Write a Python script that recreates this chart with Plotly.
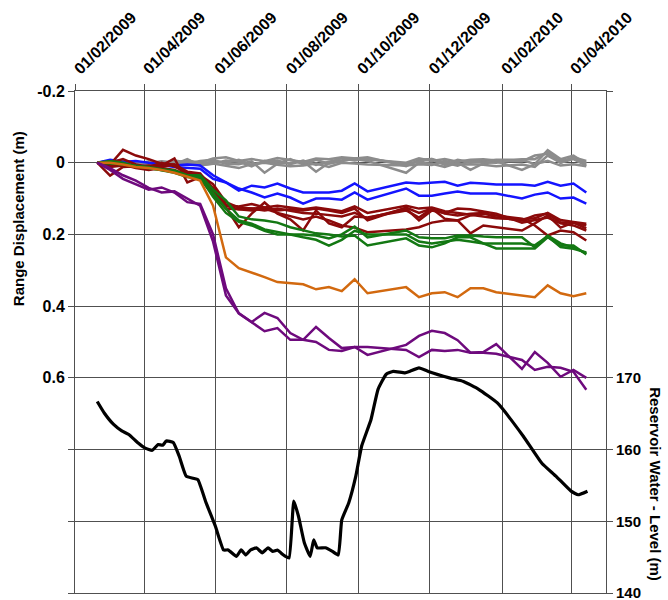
import plotly.graph_objects as go

# Acquisition dates of the displacement time series (11-day repeat, a few gaps)
sar_dates = [
    "2009-02-20", "2009-03-03", "2009-03-14", "2009-03-25", "2009-04-05", "2009-04-16",
    "2009-04-27", "2009-05-08", "2009-05-19", "2009-05-30", "2009-06-10", "2009-06-21",
    "2009-07-02", "2009-07-13", "2009-07-24", "2009-08-04", "2009-08-15", "2009-08-26",
    "2009-09-06", "2009-09-17", "2009-09-28", "2009-10-09", "2009-11-11", "2009-11-22",
    "2009-12-03", "2009-12-14", "2009-12-25", "2010-01-05", "2010-01-16", "2010-01-27",
    "2010-02-18", "2010-03-01", "2010-03-12", "2010-03-23", "2010-04-03", "2010-04-14",
]

# Range displacement (m) of the stable reference points
gray_1 = [0, 0.003, -0.005, 0.002, 0.0, -0.003, 0.005, -0.01, 0.008, 0.003, -0.006, -0.003,
          0.01, -0.005, 0.002, -0.01, 0.005, -0.008, 0.003, -0.005, -0.012, -0.015, 0.01, -0.008,
          -0.01, 0.0, 0.008, -0.005, -0.005, -0.008, -0.008, 0.004, -0.035, -0.01, -0.02, 0.003]
gray_2 = [0, 0.0, 0.004, -0.003, 0.006, 0.002, -0.004, 0.003, -0.005, -0.008, 0.003, 0.004,
          -0.004, 0.028, 0.003, 0.0, -0.004, 0.025, 0.0, -0.006, -0.01, -0.005, 0.028, 0.0,
          0.003, 0.012, 0.0, 0.02, 0.002, -0.004, 0.02, 0.004, -0.005, 0.008, 0.004, 0.01]
gray_3 = [0, -0.004, 0.0, 0.004, -0.004, 0.006, 0.002, -0.006, 0.0, -0.012, -0.015, -0.005,
          -0.01, -0.004, -0.013, -0.008, -0.002, -0.012, -0.01, -0.015, -0.012, -0.01, 0.0, -0.012,
          -0.005, -0.01, -0.003, -0.008, -0.01, -0.006, -0.004, -0.02, -0.025, 0.0, -0.015, -0.005]
gray_4 = [0, 0.002, 0.006, 0.0, 0.003, -0.004, 0.0, 0.004, 0.006, 0.002, 0.008, 0.015,
          0.004, 0.0, 0.006, 0.01, 0.008, 0.002, 0.012, 0.0, 0.002, 0.005, 0.008, 0.004,
          0.006, -0.005, 0.005, 0.004, 0.006, 0.01, 0.005, 0.012, -0.02, 0.0, -0.01, 0.008]
gray_5 = [0, -0.002, 0.002, 0.006, 0.0, 0.003, -0.006, 0.0, 0.004, -0.004, 0.0, -0.008,
          0.006, -0.002, -0.006, 0.004, -0.006, 0.006, -0.004, -0.012, -0.006, -0.012, 0.004, -0.004,
          -0.01, 0.006, -0.008, -0.002, -0.002, 0.0, -0.01, -0.01, -0.03, -0.006, -0.012, 0.0]

# Points on the landslide body
blue_1 = [0, -0.008, -0.003, -0.005, 0.0, 0.003, 0.008, 0.005, 0.008, 0.035, 0.055, 0.078,
          0.064, 0.069, 0.058, 0.072, 0.083, 0.083, 0.083, 0.078, 0.058, 0.08, 0.055, 0.058,
          0.055, 0.053, 0.064, 0.056, 0.058, 0.061, 0.061, 0.064, 0.053, 0.064, 0.058, 0.083]
blue_2 = [0, -0.005, 0.003, 0.008, 0.01, 0.006, 0.012, 0.015, 0.017, 0.045, 0.055, 0.072,
          0.083, 0.097, 0.086, 0.097, 0.114, 0.1, 0.1, 0.103, 0.083, 0.103, 0.072, 0.092,
          0.092, 0.086, 0.08, 0.086, 0.086, 0.086, 0.1, 0.089, 0.083, 0.1, 0.097, 0.114]

red_1 = [0, 0.005, -0.036, -0.02, -0.01, 0.003, 0.005, 0.03, 0.035, 0.06, 0.11, 0.125,
         0.128, 0.125, 0.133, 0.13, 0.133, 0.128, 0.133, 0.14, 0.128, 0.161, 0.125, 0.14,
         0.128, 0.142, 0.147, 0.142, 0.14, 0.153, 0.161, 0.147, 0.142, 0.167, 0.167, 0.175]
red_2 = [0, 0.036, 0.012, 0.01, 0.015, 0.008, -0.012, 0.055, 0.04, 0.08, 0.125, 0.18,
         0.142, 0.111, 0.142, 0.158, 0.189, 0.133, 0.169, 0.18, 0.15, 0.153, 0.133, 0.153,
         0.128, 0.156, 0.161, 0.197, 0.175, 0.18, 0.189, 0.169, 0.147, 0.181, 0.167, 0.183]
red_3 = [0, 0.01, 0.005, 0.015, 0.02, 0.015, 0.02, 0.035, 0.04, 0.07, 0.12, 0.13,
         0.133, 0.128, 0.14, 0.15, 0.158, 0.15, 0.161, 0.175, 0.181, 0.194, 0.186, 0.18,
         0.167, 0.161, 0.161, 0.147, 0.142, 0.147, 0.156, 0.175, 0.203, 0.189, 0.194, 0.217]
red_4 = [0, 0.0, -0.01, 0.005, 0.012, 0.0, 0.01, 0.03, 0.045, 0.09, 0.128, 0.13,
         0.128, 0.133, 0.128, 0.135, 0.14, 0.142, 0.147, 0.15, 0.14, 0.155, 0.128, 0.161,
         0.133, 0.14, 0.128, 0.13, 0.136, 0.142, 0.167, 0.161, 0.153, 0.169, 0.175, 0.189]
red_5 = [0, 0.012, 0.008, 0.012, 0.008, 0.012, 0.005, 0.025, 0.03, 0.075, 0.118, 0.122,
         0.115, 0.125, 0.12, 0.125, 0.13, 0.125, 0.13, 0.135, 0.122, 0.14, 0.12, 0.128,
         0.125, 0.135, 0.14, 0.145, 0.15, 0.155, 0.158, 0.155, 0.14, 0.16, 0.165, 0.17]

green_1 = [0, -0.005, 0.0, 0.01, 0.014, 0.022, 0.028, 0.04, 0.045, 0.085, 0.128, 0.161,
           0.17, 0.186, 0.194, 0.2, 0.2, 0.203, 0.211, 0.2, 0.178, 0.208, 0.189, 0.208,
           0.211, 0.211, 0.203, 0.203, 0.206, 0.208, 0.208, 0.236, 0.203, 0.225, 0.236, 0.253]
green_2 = [0, 0.0, 0.005, 0.008, 0.012, 0.018, 0.022, 0.035, 0.035, 0.075, 0.105, 0.15,
           0.158, 0.161, 0.167, 0.18, 0.189, 0.197, 0.2, 0.206, 0.203, 0.231, 0.211, 0.231,
           0.236, 0.225, 0.208, 0.208, 0.225, 0.239, 0.239, 0.239, 0.208, 0.231, 0.231, 0.256]
green_3 = [0, 0.002, 0.004, 0.01, 0.016, 0.02, 0.025, 0.038, 0.04, 0.095, 0.14, 0.165,
           0.175, 0.19, 0.2, 0.2, 0.208, 0.215, 0.231, 0.215, 0.19, 0.2, 0.2, 0.22,
           0.225, 0.22, 0.215, 0.22, 0.225, 0.225, 0.225, 0.23, 0.205, 0.235, 0.24, 0.25]

orange_1 = [0, 0.0, 0.005, 0.012, 0.015, 0.02, 0.028, 0.04, 0.05, 0.12, 0.264, 0.294,
            0.306, 0.319, 0.333, 0.336, 0.339, 0.353, 0.347, 0.358, 0.325, 0.364, 0.347, 0.375,
            0.364, 0.361, 0.375, 0.35, 0.35, 0.361, 0.37, 0.375, 0.342, 0.364, 0.372, 0.364]

purple_1 = [0, 0.02, 0.045, 0.06, 0.075, 0.069, 0.083, 0.11, 0.115, 0.2, 0.35, 0.42,
            0.444, 0.47, 0.461, 0.494, 0.494, 0.458, 0.489, 0.517, 0.514, 0.536, 0.508, 0.483,
            0.469, 0.475, 0.495, 0.53, 0.528, 0.506, 0.575, 0.528, 0.558, 0.597, 0.578, 0.6]
purple_2 = [0, 0.015, 0.035, 0.05, 0.07, 0.083, 0.08, 0.1, 0.12, 0.22, 0.37, 0.42,
            0.444, 0.419, 0.433, 0.475, 0.494, 0.5, 0.522, 0.525, 0.514, 0.514, 0.522, 0.542,
            0.522, 0.525, 0.522, 0.53, 0.53, 0.533, 0.55, 0.578, 0.569, 0.572, 0.583, 0.633]

# Reservoir water level (m)
level_dates = [
    "2009-02-20", "2009-02-26", "2009-03-06", "2009-03-13", "2009-03-19", "2009-03-27",
    "2009-04-02", "2009-04-08", "2009-04-13", "2009-04-17", "2009-04-20", "2009-04-26",
    "2009-05-01", "2009-05-07", "2009-05-13", "2009-05-17", "2009-05-24", "2009-06-01",
    "2009-06-08", "2009-06-12", "2009-06-19", "2009-06-23", "2009-06-27", "2009-07-01",
    "2009-07-06", "2009-07-11", "2009-07-16", "2009-07-20", "2009-07-24", "2009-07-27",
    "2009-07-31", "2009-08-03", "2009-08-07", "2009-08-11", "2009-08-16", "2009-08-21",
    "2009-08-24", "2009-08-27", "2009-09-03", "2009-09-09", "2009-09-14", "2009-09-17",
    "2009-09-23", "2009-09-29", "2009-10-04", "2009-10-12", "2009-10-18", "2009-10-25",
    "2009-10-31", "2009-11-10", "2009-11-14", "2009-11-22", "2009-11-30", "2009-12-18",
    "2009-12-30", "2010-01-12", "2010-01-28", "2010-02-19", "2010-03-07", "2010-03-19",
    "2010-04-01", "2010-04-07", "2010-04-15",
]
water_level = [
    166.7, 165.1, 163.5, 162.6, 162.1, 160.9,
    160.2, 159.9, 160.7, 160.6, 161.2, 161.0,
    159.1, 156.3, 156.0, 155.8, 152.6, 149.3,
    146.0, 146.0, 145.1, 146.0, 145.3, 146.0,
    146.3, 145.6, 146.3, 145.8, 146.0, 145.6,
    145.1, 144.9, 152.8, 150.7, 147.0, 145.1,
    147.4, 146.3, 146.3, 145.8, 145.3, 150.2,
    152.6, 156.3, 160.5, 164.2, 168.4, 170.5,
    170.9, 170.7, 170.9, 171.4, 170.9, 170.0,
    169.5, 168.4, 166.5, 161.9, 158.1, 156.3,
    154.2, 153.7, 154.2,
]

tick_dates = ["2009-02-01", "2009-04-01", "2009-06-01", "2009-08-01",
              "2009-10-01", "2009-12-01", "2010-02-01", "2010-04-01"]
tick_labels = ["01/02/2009", "01/04/2009", "01/06/2009", "01/08/2009",
               "01/10/2009", "01/12/2009", "01/02/2010", "01/04/2010"]

disp_ticks = [-0.2, 0, 0.2, 0.4, 0.6, 0.8, 1.0, 1.2]
disp_labels = ["-0.2", "0", "0.2", "0.4", "0.6", "", "", ""]
level_ticks = [140, 150, 160, 170, 180, 190, 200, 210]
level_labels = ["140", "150", "160", "170", "", "", "", ""]

GRAY, BLUE, RED, GREEN, ORANGE, PURPLE = "#8c8c8c", "#1414ff", "#8b0a0a", "#137813", "#d2690f", "#6e0a7d"

series = [
    (gray_1, GRAY), (gray_2, GRAY), (gray_3, GRAY), (gray_4, GRAY), (gray_5, GRAY),
    (blue_1, BLUE), (blue_2, BLUE),
    (red_1, RED), (red_2, RED), (red_3, RED), (red_4, RED), (red_5, RED),
    (green_1, GREEN), (green_2, GREEN), (green_3, GREEN),
    (orange_1, ORANGE),
    (purple_1, PURPLE), (purple_2, PURPLE),
]

fig = go.Figure()
for values, color in series:
    fig.add_trace(go.Scatter(x=sar_dates, y=values, mode="lines",
                             line=dict(color=color, width=2.5), showlegend=False))

fig.add_trace(go.Scatter(x=level_dates, y=water_level, mode="lines", yaxis="y2",
                         line=dict(color="black", width=3.2, shape="spline", smoothing=0.4),
                         showlegend=False))

FONT = "Liberation Sans, Arial, sans-serif"
GRID = "#505050"

fig.update_layout(
    width=668, height=600,
    margin=dict(l=75, r=62, t=91, b=7, autoexpand=False),
    paper_bgcolor="white", plot_bgcolor="white",
    font=dict(family=FONT, color="black"),
    xaxis=dict(
        type="date", side="top", automargin=False,
        range=["2009-02-01", "2010-04-30 20:00"],
        tickvals=tick_dates, ticktext=tick_labels, tickangle=-45,
        tickfont=dict(size=16, weight="bold"),
        ticks="outside", ticklen=6, tickcolor=GRID,
        showgrid=True, gridcolor=GRID, gridwidth=1,
        showline=True, linecolor=GRID, mirror=True,
        zeroline=False,
    ),
    yaxis=dict(
        range=[1.2, -0.2], automargin=False,
        tickvals=disp_ticks, ticktext=disp_labels,
        tickfont=dict(size=16, weight="bold"),
        ticks="outside", ticklen=6, tickcolor=GRID,
        showgrid=True, gridcolor=GRID, gridwidth=1,
        showline=True, linecolor=GRID,
        zeroline=False,
    ),
    yaxis2=dict(
        overlaying="y", side="right", automargin=False,
        range=[140, 210],
        tickvals=level_ticks, ticktext=level_labels,
        tickfont=dict(size=15, weight="bold"),
        ticks="outside", ticklen=6, tickcolor=GRID,
        showgrid=False, showline=True, linecolor=GRID,
        zeroline=False, ticklabeloverflow="allow",
    ),
    annotations=[
        dict(text="Range Displacement (m)", xref="paper", yref="paper",
             x=-0.107, y=0.745, xanchor="center", yanchor="middle", textangle=-90,
             showarrow=False, font=dict(size=15, weight="bold")),
        dict(text="Reservoir Water - Level (m)", xref="paper", yref="paper",
             x=1.094, y=0.217, xanchor="center", yanchor="middle", textangle=90,
             showarrow=False, font=dict(size=15, weight="bold")),
    ],
)

fig.write_html("out.html")
